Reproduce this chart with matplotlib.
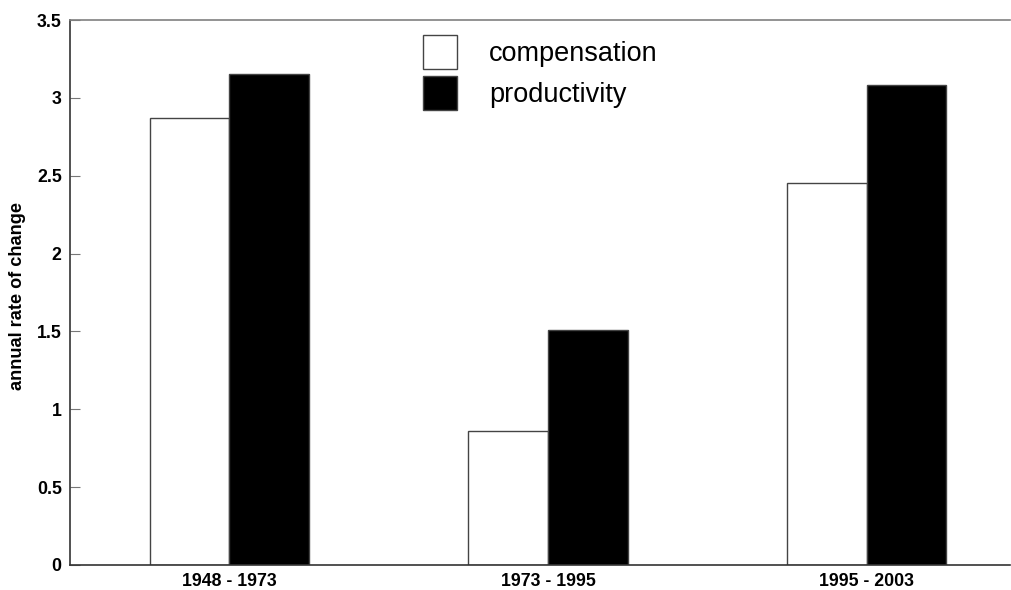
import numpy as np
import matplotlib
matplotlib.use('Agg')
import matplotlib.pyplot as plt
from matplotlib.patches import Patch

plt.rcParams['font.family'] = ['Liberation Sans', 'DejaVu Sans']

periods = ['1948 - 1973', '1973 - 1995', '1995 - 2003']
compensation = [2.87, 0.86, 2.45]
productivity = [3.15, 1.51, 3.08]
yticks = [0, 0.5, 1, 1.5, 2, 2.5, 3, 3.5]
ytick_labels = ['0', '0.5', '1', '1.5', '2', '2.5', '3', '3.5']

fig = plt.figure(figsize=(10.11, 5.90), dpi=100)
ax = fig.add_axes([0.0692, 0.0424, 0.93, 0.9237])

x = np.arange(len(periods))
w = 0.25
edge = '#444444'
ax.bar(x - w / 2, compensation, w, color='white', edgecolor=edge, linewidth=1.0)
ax.bar(x + w / 2, productivity, w, color='black', edgecolor=edge, linewidth=1.0)

ax.set_xlim(-0.5, 2.45)
ax.set_ylim(0, 3.5)
ax.set_xticks(x)
ax.set_xticklabels(periods, fontsize=12.8, fontweight='bold')
ax.set_yticks(yticks)
ax.set_yticklabels(ytick_labels, fontsize=12.8, fontweight='bold')
ax.tick_params(axis='x', length=0, pad=6)
ax.tick_params(axis='y', direction='in', length=7.5, color='#777777', pad=6)
ax.set_ylabel('annual rate of change', fontsize=13.1, fontweight='bold')
ax.yaxis.set_label_coords(-0.047, 0.494)

ax.spines['right'].set_visible(False)
ax.spines['left'].set_color('#333333')
ax.spines['bottom'].set_color('#333333')
ax.spines['top'].set_color('#808080')
for s in ['left', 'bottom', 'top']:
    ax.spines[s].set_linewidth(1.2)

handles = [Patch(facecolor='white', edgecolor=edge, linewidth=1.0),
           Patch(facecolor='black', edgecolor=edge, linewidth=1.0)]
fig.legend(handles, ['compensation', 'productivity'], loc='upper left',
           bbox_to_anchor=(0.418, 0.940), frameon=False, fontsize=19.5,
           handlelength=1.26, handleheight=1.55, handletextpad=1.2,
           labelspacing=0.26, borderpad=0, borderaxespad=0)

fig.savefig('out.png', dpi=100)
